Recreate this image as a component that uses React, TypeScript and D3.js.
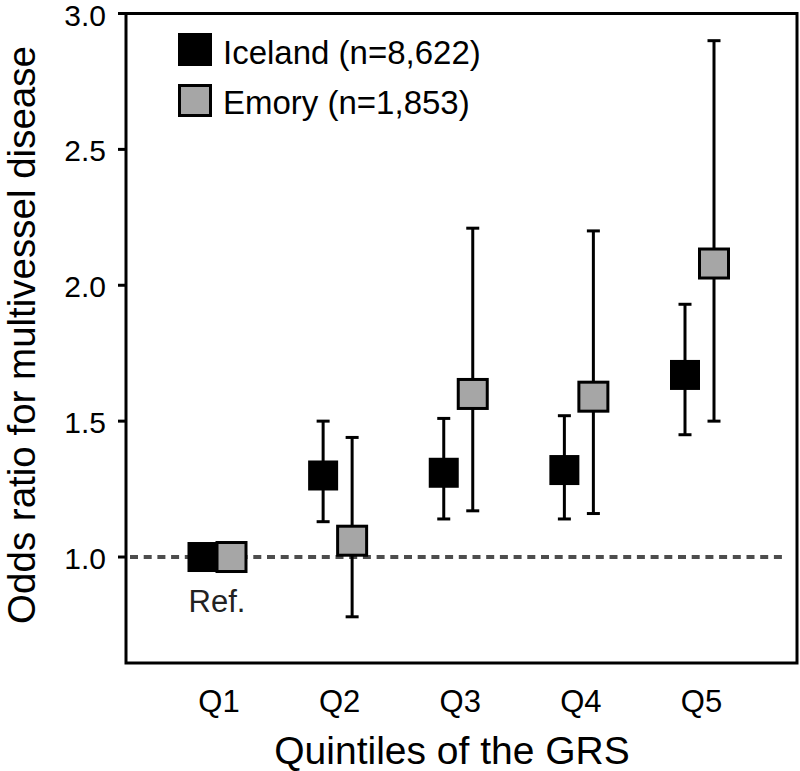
import React from "react";
import * as d3 from "d3";

const categories = ["Q1", "Q2", "Q3", "Q4", "Q5"];
const icelandOR = [1.0, 1.3, 1.31, 1.32, 1.67];
const icelandLow: (number | null)[] = [null, 1.13, 1.14, 1.14, 1.45];
const icelandHigh: (number | null)[] = [null, 1.5, 1.51, 1.52, 1.93];
const emoryOR = [1.0, 1.06, 1.6, 1.59, 2.08];
const emoryLow: (number | null)[] = [null, 0.78, 1.17, 1.16, 1.5];
const emoryHigh: (number | null)[] = [null, 1.44, 2.21, 2.2, 2.9];
const yTicks = [1.0, 1.5, 2.0, 2.5, 3.0];
const legendLabels = ["Iceland (n=8,622)", "Emory (n=1,853)"];
const refLabel = "Ref.";
const xTitle = "Quintiles of the GRS";
const yTitle = "Odds ratio for multivessel disease";

const W = 800;
const H = 771;
const left = 126;
const right = 797;
const top = 13.5;
const bottom = 663;
const FONT = "'Liberation Sans', Arial, Helvetica, sans-serif";
const GREY = "#a6a6a6";

export default function App() {
  const y = d3.scaleLinear().domain([0.61, 3.0]).range([bottom, top]);
  const x = d3.scalePoint<string>().domain(categories).range([217, 699.5]);
  const off = 14.5;
  const cap = 6.5;
  const box = 30;

  const series = [
    { or: icelandOR, lo: icelandLow, hi: icelandHigh, dx: -off, fill: "#000", stroke: "none" },
    { or: emoryOR, lo: emoryLow, hi: emoryHigh, dx: off, fill: GREY, stroke: "#000" },
  ];

  return (
    <svg
      width={W}
      height={H}
      style={{ position: "absolute", left: 0, top: 0, background: "#fff" }}
      fontFamily={FONT}
    >
      <rect x={0} y={0} width={W} height={H} fill="#fff" />
      {/* reference line */}
      <line
        x1={left + 4}
        x2={right - 10}
        y1={y(1)}
        y2={y(1)}
        stroke="#4d4d4d"
        strokeWidth={4}
        strokeDasharray="8 5.7"
      />
      {/* frame */}
      <rect x={left} y={top} width={right - left} height={bottom - top} fill="none" stroke="#000" strokeWidth={3} />
      {/* y ticks */}
      {yTicks.map((t) => (
        <g key={t}>
          <line x1={left - 8} x2={left} y1={y(t)} y2={y(t)} stroke="#000" strokeWidth={3} />
          <text x={106} y={y(t)} dy="0.4em" textAnchor="end" fontSize={30} fill="#000">
            {t.toFixed(1)}
          </text>
        </g>
      ))}
      {/* x labels */}
      {categories.map((c) => (
        <text key={c} x={(x(c) as number) + 2} y={712} textAnchor="middle" fontSize={31} fill="#000">
          {c}
        </text>
      ))}
      {/* whiskers */}
      {series.map((s, si) =>
        categories.map((c, i) => {
          const lo = s.lo[i];
          const hi = s.hi[i];
          if (lo == null || hi == null) return null;
          const cx = (x(c) as number) + s.dx;
          return (
            <g key={`w${si}-${i}`} stroke="#000" strokeWidth={3}>
              <line x1={cx} x2={cx} y1={y(lo)} y2={y(hi)} />
              <line x1={cx - cap} x2={cx + cap} y1={y(hi)} y2={y(hi)} />
              <line x1={cx - cap} x2={cx + cap} y1={y(lo)} y2={y(lo)} />
            </g>
          );
        })
      )}
      {/* boxes */}
      {series.map((s, si) =>
        categories.map((c, i) => {
          const cx = (x(c) as number) + s.dx;
          const cy = y(s.or[i]);
          return si === 0 ? (
            <rect key={`b${si}-${i}`} x={cx - box / 2} y={cy - box / 2} width={box} height={box} fill={s.fill} />
          ) : (
            <rect
              key={`b${si}-${i}`}
              x={cx - (box - 1) / 2}
              y={cy - (box - 1) / 2}
              width={box - 1}
              height={box - 1}
              fill={s.fill}
              stroke={s.stroke}
              strokeWidth={3}
            />
          );
        })
      )}
      {/* Ref label */}
      <text x={x("Q1") as number} y={612} textAnchor="middle" fontSize={31} fill="#222">
        {refLabel}
      </text>
      {/* legend */}
      <rect x={178} y={33} width={34} height={33} fill="#000" />
      <text x={223} y={64} fontSize={33} fill="#000">
        {legendLabels[0]}
      </text>
      <rect x={179.5} y={85.5} width={31} height={30} fill={GREY} stroke="#000" strokeWidth={3} />
      <text x={223} y={114} fontSize={33} fill="#000">
        {legendLabels[1]}
      </text>
      {/* axis titles */}
      <text x={452} y={764} textAnchor="middle" fontSize={39} fill="#000">
        {xTitle}
      </text>
      <text
        transform={`translate(35, 335) rotate(-90)`}
        textAnchor="middle"
        fontSize={38.5}
        fill="#000"
      >
        {yTitle}
      </text>
    </svg>
  );
}
